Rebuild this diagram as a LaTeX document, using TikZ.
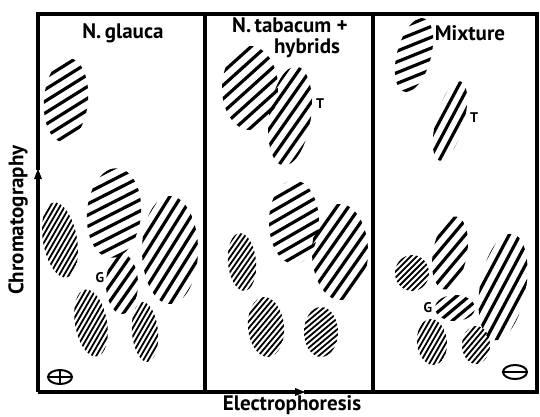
\documentclass[tikz,border=0pt]{standalone}
\usepackage{fontspec}
\setmainfont{PT Sans}
\usetikzlibrary{arrows.meta,positioning}
\tikzset{
  frameline/.style={line width=3.4pt, line cap=rect},
  axisarrow/.style={line width=3.4pt, -{Triangle[length=11pt,width=7pt]}},
  coarse/.style={line width=3.2pt, line cap=round},
  fine/.style={line width=1.8pt, line cap=round},
  electrode/.style={line width=2pt},
  titletext/.style={font=\bfseries\fontsize{21}{22}\selectfont, inner sep=0pt},
  axistext/.style={font=\bfseries\fontsize{21}{22}\selectfont, inner sep=0pt},
  spottext/.style={font=\bfseries\fontsize{14}{15}\selectfont, inner sep=0pt}
}
% centre x, centre y, rx, ry, tilt, hatch angle, gap, style
\newcommand{\spot}[8]{%
  \begin{scope}[shift={(#1,#2)}]
    \clip[rotate=#5] (0,0) ellipse ({#3} and {#4});
    \begin{scope}[rotate=#6]
      \foreach \k in {-16,...,16}
        \draw[#8] (-90,\k*#7) -- (90,\k*#7);
    \end{scope}
  \end{scope}
}

\begin{document}
\begin{tikzpicture}[x=1pt,y=-1pt]
  \useasboundingbox (0,0) rectangle (540,416);

  \coordinate (tl) at (38,14);
  \coordinate (bl) at (38,392);
  \coordinate (br) at (537,392);
  \coordinate (tr) at (537,14);
  \coordinate (chrom) at (38,168);
  \coordinate (elec) at (306,392);

  \draw[frameline] (chrom) -- (tl) -- (tr) -- (br) -- (elec);
  \draw[axisarrow] (bl) -- (chrom);
  \draw[axisarrow] (bl) -- (elec);
  \draw[frameline] (205,14) -- (205,392);
  \draw[frameline] (373,14) -- (373,392);

  % N. glauca
  \spot{66}{100}{22}{42}{-5}{32}{10}{coarse}
  \spot{114}{213}{27}{45}{-5}{27}{10}{coarse}
  \spot{122}{284}{16}{30}{0}{55}{9}{coarse}
  \spot{170}{250}{28}{54}{0}{58}{9.5}{coarse}
  \spot{60}{240}{17}{38}{10}{60}{4.2}{fine}
  \spot{91}{323}{16}{34}{10}{60}{4.2}{fine}
  \spot{145}{332}{13}{30}{5}{60}{4.2}{fine}

  % N. tabacum + hybrids
  \spot{250}{88}{28}{42}{0}{42}{10}{coarse}
  \spot{290}{116}{21}{50}{-8}{55}{9.5}{coarse}
  \spot{294}{222}{25}{42}{0}{30}{10}{coarse}
  \spot{340}{252}{28}{48}{0}{55}{9.5}{coarse}
  \spot{242}{262}{14}{29}{5}{55}{4.2}{fine}
  \spot{266}{327}{18}{30}{5}{50}{4.2}{fine}
  \spot{321}{332}{17}{25}{0}{40}{4.2}{fine}

  % Mixture
  \spot{414}{55}{17}{38}{-15}{22}{10}{coarse}
  \spot{450}{121}{14}{41}{-15}{62}{9}{coarse}
  \spot{450}{253}{17}{37}{-10}{50}{9.5}{coarse}
  \spot{503}{287}{23}{54}{-10}{62}{9.5}{coarse}
  \spot{455}{308}{20}{13}{0}{40}{8}{coarse}
  \spot{412}{273}{17}{18}{0}{45}{4.2}{fine}
  \spot{432}{342}{15}{23}{5}{60}{4.2}{fine}
  \spot{476}{345}{14}{19}{0}{50}{4.2}{fine}

  \draw[electrode] (60,377) ellipse (12 and 7);
  \draw[electrode] (48,377) -- (72,377) (60,370) -- (60,384);
  \draw[electrode] (515,372) ellipse (12 and 7);
  \draw[electrode] (503,372) -- (527,372);

  \node[titletext] (glauca) at (123,33) {N.\,glauca};
  \node[titletext] (tabacum) at (290,25) {N.\,tabacum \textbf{+}};
  \node[titletext] (hybrids) at (307,48) {hybrids};
  \node[titletext] (mixture) at (470,33) {Mixture};

  \node[spottext] (tmid) at (320,104) {T};
  \node[spottext] (tmix) at (474,118) {T};
  \node[spottext] (gleft) at (100,278) {G};
  \node[spottext] (gmix) at (428,308) {G};

  \node[axistext, rotate=90] (chromlabel) at (18,220) {Chromatography};
  \node[axistext] (eleclabel) at (292,405) {Electrophoresis};
\end{tikzpicture}
\end{document}
